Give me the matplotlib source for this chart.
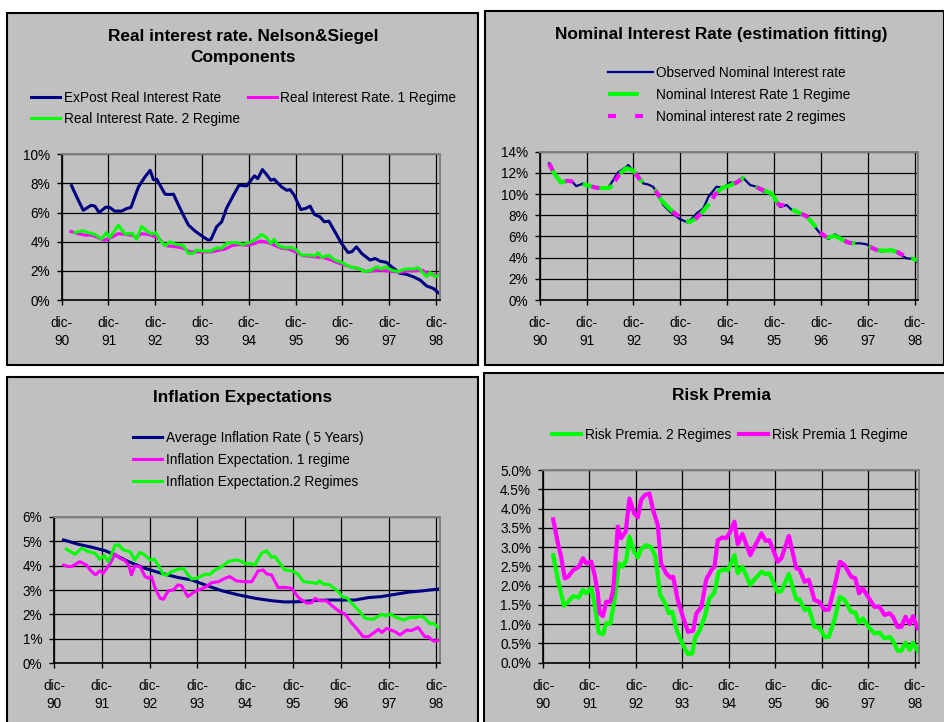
import matplotlib.pyplot as plt
from matplotlib.patches import Rectangle
from matplotlib.ticker import FuncFormatter, MultipleLocator

plt.rcParams["font.family"] = ["Liberation Sans", "DejaVu Sans"]

W, H = 945, 722
NAVY = "#000080"
MAGENTA = "#FF00FF"
GREEN = "#00FF00"
PANEL = "#C0C0C0"

YEAR_LABELS = [f"dic-\n{y}" for y in range(90, 99)]

# time axis: years after December 1990, values in percent

# real interest rate
expost_t = [0.21, 0.32, 0.46, 0.63, 0.71, 0.80, 0.94, 1.03, 1.13, 1.28, 1.39, 1.48,
            1.64, 1.78, 1.89, 1.96, 2.03, 2.21, 2.31, 2.39, 2.48, 2.60, 2.71, 2.85,
            2.99, 3.13, 3.19, 3.31, 3.42, 3.52, 3.67, 3.79, 3.95, 4.12, 4.19, 4.29,
            4.38, 4.47, 4.54, 4.70, 4.81, 4.88, 4.97, 5.11, 5.21, 5.31, 5.40, 5.52,
            5.61, 5.71, 5.84, 5.98, 6.12, 6.20, 6.30, 6.41, 6.59, 6.70, 6.80, 6.94,
            7.05, 7.23, 7.37, 7.51, 7.66, 7.80, 7.94, 8.05]
expost_v = [7.85, 7.08, 6.16, 6.50, 6.44, 6.00, 6.37, 6.35, 6.10, 6.10, 6.28, 6.35,
            7.76, 8.45, 8.90, 8.26, 8.29, 7.26, 7.24, 7.26, 6.62, 5.82, 5.14, 4.73,
            4.41, 4.11, 4.16, 5.02, 5.37, 6.28, 7.19, 7.88, 7.83, 8.52, 8.33, 8.95,
            8.60, 8.22, 8.29, 7.76, 7.53, 7.58, 7.19, 6.21, 6.28, 6.44, 5.87, 5.71,
            5.37, 5.41, 4.68, 3.88, 3.26, 3.31, 3.65, 3.20, 2.74, 2.85, 2.67, 2.58,
            2.28, 1.83, 1.76, 1.60, 1.37, 0.96, 0.80, 0.50]

real1_t = [0.20, 0.35, 0.50, 0.65, 0.80, 0.90, 1.00, 1.10, 1.20, 1.35, 1.50, 1.60,
           1.70, 1.85, 2.00, 2.10, 2.20, 2.30, 2.45, 2.60, 2.75, 2.90, 3.05, 3.20,
           3.35, 3.50, 3.65, 3.80, 3.95, 4.10, 4.25, 4.40, 4.55, 4.70, 4.85, 5.00,
           5.15, 5.30, 5.45, 5.60, 5.75, 5.90, 6.05, 6.20, 6.35, 6.50, 6.65, 6.80,
           6.95, 7.10, 7.25, 7.40, 7.55, 7.70, 7.85, 8.05]
real1_v = [4.70, 4.55, 4.45, 4.45, 4.25, 4.10, 4.20, 4.35, 4.55, 4.50, 4.45, 4.30,
           4.55, 4.50, 4.35, 4.15, 3.75, 3.70, 3.65, 3.55, 3.30, 3.30, 3.30, 3.30,
           3.40, 3.50, 3.75, 3.80, 3.75, 3.85, 4.05, 3.95, 3.75, 3.55, 3.50, 3.30,
           3.05, 3.00, 2.95, 2.90, 2.75, 2.55, 2.40, 2.25, 2.15, 1.95, 2.00, 2.05,
           2.00, 1.95, 1.90, 2.00, 2.00, 2.05, 1.80, 1.70]

real2_t = [0.28, 0.46, 0.57, 0.71, 0.85, 0.96, 1.03, 1.21, 1.35, 1.50, 1.60, 1.71,
           1.82, 1.92, 2.01, 2.10, 2.21, 2.31, 2.42, 2.53, 2.60, 2.71, 2.81, 2.88,
           3.03, 3.19, 3.31, 3.42, 3.52, 3.70, 3.88, 4.06, 4.17, 4.27, 4.38, 4.47,
           4.54, 4.63, 4.77, 4.91, 5.02, 5.13, 5.27, 5.41, 5.48, 5.56, 5.70, 5.84,
           5.98, 6.16, 6.34, 6.48, 6.62, 6.73, 6.84, 6.91, 7.05, 7.19, 7.34, 7.51,
           7.62, 7.80, 7.87, 7.98, 8.06]
real2_v = [4.63, 4.75, 4.61, 4.50, 4.18, 4.63, 4.27, 5.14, 4.52, 4.59, 4.18, 5.05,
           4.73, 4.52, 4.63, 4.11, 3.72, 4.00, 3.84, 3.77, 3.72, 3.20, 3.20, 3.42,
           3.36, 3.36, 3.58, 3.54, 3.88, 3.95, 3.81, 4.00, 4.22, 4.50, 4.27, 3.88,
           4.16, 3.72, 3.58, 3.61, 3.42, 3.08, 3.08, 3.04, 3.24, 2.92, 3.08, 2.74,
           2.58, 2.28, 2.17, 1.94, 2.05, 2.28, 2.12, 2.28, 2.05, 1.94, 2.12, 2.12,
           2.21, 1.60, 1.89, 1.60, 1.71]

# nominal interest rate
nominal_t = [0.20, 0.28, 0.46, 0.57, 0.68, 0.78, 0.93, 1.03, 1.14, 1.32, 1.46, 1.57,
             1.67, 1.82, 1.89, 1.96, 2.07, 2.21, 2.31, 2.42, 2.53, 2.64, 2.78, 2.99,
             3.15, 3.24, 3.35, 3.49, 3.60, 3.77, 3.92, 4.06, 4.17, 4.33, 4.49, 4.63,
             4.77, 4.91, 5.02, 5.13, 5.27, 5.38, 5.56, 5.70, 5.84, 5.98, 6.16, 6.30,
             6.41, 6.55, 6.70, 6.84, 6.98, 7.12, 7.30, 7.44, 7.58, 7.73, 7.83, 7.98,
             8.06]
nominal_v = [12.90, 12.10, 11.07, 11.26, 11.23, 10.75, 11.00, 10.85, 10.66, 10.53, 10.60, 11.32,
             12.04, 12.48, 12.74, 12.33, 11.95, 11.00, 10.91, 10.69, 9.90, 8.96, 8.33, 7.64,
             7.33, 7.64, 8.18, 8.65, 9.75, 10.69, 10.60, 11.10, 11.00, 11.57, 10.85, 10.69,
             10.22, 10.06, 9.59, 8.80, 8.96, 8.49, 8.18, 7.86, 7.08, 6.29, 5.75, 6.20,
             5.88, 5.50, 5.35, 5.35, 5.25, 4.81, 4.56, 4.72, 4.56, 4.18, 3.93, 3.87,
             3.55]

fit_t = [0.20, 0.30, 0.45, 0.60, 0.75, 0.90, 1.05, 1.20, 1.35, 1.50, 1.60, 1.70,
         1.85, 2.00, 2.15, 2.30, 2.45, 2.60, 2.75, 2.90, 3.05, 3.20, 3.30, 3.45,
         3.60, 3.75, 3.90, 4.05, 4.20, 4.35, 4.50, 4.65, 4.80, 4.95, 5.10, 5.25,
         5.40, 5.55, 5.70, 5.85, 6.00, 6.15, 6.30, 6.45, 6.60, 6.75, 6.90, 7.05,
         7.20, 7.35, 7.50, 7.65, 7.80, 7.95, 8.05]
fit1_v = [12.90, 12.00, 11.10, 11.25, 11.15, 10.95, 10.80, 10.60, 10.55, 10.60, 11.20, 11.90,
          12.45, 12.20, 11.30, 10.90, 10.50, 9.40, 8.70, 8.10, 7.70, 7.35, 7.60, 8.20,
          9.00, 10.00, 10.60, 10.80, 11.10, 11.50, 10.90, 10.60, 10.30, 10.05, 9.00, 8.90,
          8.50, 8.20, 7.90, 7.10, 6.30, 5.90, 6.05, 5.70, 5.40, 5.35, 5.30, 5.00,
          4.70, 4.65, 4.70, 4.50, 4.10, 3.90, 3.75]
fit2_v = [12.90, 12.00, 11.10, 11.25, 11.15, 10.95, 10.80, 10.60, 10.55, 10.60, 11.20, 11.85,
          12.35, 12.20, 11.30, 10.90, 10.50, 9.40, 8.70, 8.10, 7.70, 7.30, 7.55, 8.20,
          9.00, 10.00, 10.60, 10.80, 11.10, 11.50, 10.90, 10.60, 10.30, 10.05, 9.00, 8.90,
          8.50, 8.20, 7.90, 7.10, 6.30, 5.85, 6.00, 5.70, 5.40, 5.35, 5.30, 5.00,
          4.70, 4.65, 4.70, 4.50, 4.10, 3.90, 3.75]

# inflation
avg_infl_t = [0.20, 0.51, 0.79, 1.07, 1.28, 1.56, 1.90, 2.25, 2.60, 2.88, 3.16, 3.51,
              3.86, 4.21, 4.56, 4.83, 5.11, 5.39, 5.74, 6.09, 6.30, 6.58, 6.85, 7.13,
              7.41, 7.69, 8.04]
avg_infl_v = [5.05, 4.87, 4.75, 4.61, 4.43, 4.16, 3.89, 3.68, 3.51, 3.41, 3.21, 2.97,
              2.80, 2.66, 2.56, 2.51, 2.52, 2.56, 2.59, 2.59, 2.59, 2.69, 2.73, 2.82,
              2.91, 2.96, 3.04]

infl1_t = [0.20, 0.30, 0.37, 0.54, 0.68, 0.79, 0.87, 0.96, 1.03, 1.17, 1.28, 1.38,
           1.49, 1.57, 1.62, 1.69, 1.80, 1.90, 1.97, 2.04, 2.11, 2.22, 2.29, 2.39,
           2.50, 2.59, 2.67, 2.80, 2.91, 3.02, 3.16, 3.30, 3.44, 3.58, 3.68, 3.82,
           3.99, 4.14, 4.27, 4.38, 4.45, 4.55, 4.69, 4.83, 4.97, 5.13, 5.29, 5.39,
           5.46, 5.56, 5.70, 5.84, 5.98, 6.09, 6.23, 6.33, 6.47, 6.58, 6.68, 6.79,
           6.86, 6.96, 7.13, 7.24, 7.38, 7.48, 7.62, 7.76, 7.83, 7.94, 8.04]
infl1_v = [4.02, 3.96, 3.96, 4.16, 4.02, 3.75, 3.62, 3.79, 3.68, 4.07, 4.47, 4.30,
           4.20, 3.98, 3.62, 3.98, 3.96, 3.57, 3.48, 3.55, 3.11, 2.66, 2.62, 2.97,
           3.00, 3.21, 3.17, 2.73, 2.89, 3.00, 3.11, 3.30, 3.34, 3.48, 3.55, 3.37,
           3.34, 3.34, 3.78, 3.82, 3.66, 3.62, 3.10, 3.11, 3.07, 2.66, 2.46, 2.48,
           2.66, 2.56, 2.56, 2.32, 2.11, 2.02, 1.64, 1.43, 1.09, 1.09, 1.23, 1.39,
           1.26, 1.43, 1.30, 1.16, 1.36, 1.34, 1.47, 1.09, 1.09, 0.91, 0.93]

infl2_t = [0.26, 0.44, 0.58, 0.72, 0.86, 0.96, 1.05, 1.14, 1.28, 1.36, 1.45, 1.59,
           1.69, 1.80, 1.90, 2.01, 2.10, 2.18, 2.29, 2.36, 2.46, 2.60, 2.71, 2.78,
           2.88, 2.98, 3.16, 3.26, 3.37, 3.51, 3.65, 3.79, 3.89, 3.99, 4.14, 4.20,
           4.34, 4.45, 4.55, 4.62, 4.83, 4.97, 5.11, 5.22, 5.39, 5.50, 5.55, 5.63,
           5.77, 5.91, 6.05, 6.12, 6.30, 6.40, 6.51, 6.68, 6.86, 6.93, 7.03, 7.17,
           7.31, 7.45, 7.59, 7.69, 7.76, 7.87, 7.94, 8.04]
infl2_v = [4.67, 4.46, 4.71, 4.57, 4.50, 4.26, 4.41, 4.16, 4.84, 4.84, 4.64, 4.57,
           4.23, 4.54, 4.43, 4.23, 4.26, 4.02, 3.62, 3.62, 3.75, 3.85, 3.89, 3.68,
           3.45, 3.48, 3.64, 3.64, 3.82, 3.96, 4.16, 4.23, 4.20, 4.09, 4.07, 4.02,
           4.50, 4.61, 4.34, 4.37, 3.82, 3.79, 3.64, 3.34, 3.30, 3.27, 3.38, 3.25,
           3.21, 3.00, 2.70, 2.69, 2.32, 2.11, 1.84, 1.80, 2.01, 1.94, 2.01, 1.88,
           1.77, 1.88, 1.88, 1.94, 1.84, 1.61, 1.64, 1.47]

# risk premia
risk_t = [0.22, 0.32, 0.39, 0.47, 0.54, 0.65, 0.77, 0.86, 0.93, 1.04, 1.11, 1.18,
          1.22, 1.29, 1.36, 1.45, 1.51, 1.61, 1.68, 1.78, 1.86, 1.96, 2.04, 2.11,
          2.19, 2.29, 2.37, 2.47, 2.54, 2.65, 2.74, 2.80, 2.90, 3.01, 3.12, 3.23,
          3.30, 3.41, 3.51, 3.62, 3.69, 3.76, 3.86, 3.94, 4.03, 4.12, 4.19, 4.29,
          4.46, 4.57, 4.70, 4.79, 4.87, 5.05, 5.13, 5.29, 5.45, 5.52, 5.63, 5.72,
          5.84, 5.94, 6.06, 6.15, 6.27, 6.39, 6.49, 6.63, 6.72, 6.80, 6.88, 7.03,
          7.13, 7.24, 7.35, 7.46, 7.53, 7.63, 7.71, 7.80, 7.89, 7.96, 8.06]
risk1_v = [3.72, 3.10, 2.75, 2.19, 2.23, 2.40, 2.49, 2.71, 2.58, 2.62, 2.28, 1.80,
           1.28, 1.21, 1.58, 1.58, 1.89, 3.53, 3.23, 3.40, 4.26, 3.88, 3.77, 4.22,
           4.35, 4.39, 3.96, 3.57, 2.58, 2.32, 2.21, 2.23, 1.63, 1.19, 0.80, 0.83,
           1.28, 1.45, 2.15, 2.40, 2.49, 3.18, 3.25, 3.23, 3.40, 3.66, 3.07, 3.34,
           2.79, 3.05, 3.36, 3.16, 3.18, 2.62, 2.71, 3.29, 2.45, 2.42, 2.10, 2.15,
           1.63, 1.58, 1.37, 1.38, 1.97, 2.62, 2.53, 2.23, 2.19, 1.80, 1.93, 1.64,
           1.45, 1.45, 1.24, 1.28, 1.19, 0.93, 0.93, 1.19, 1.00, 1.21, 0.89]

risk2_t = [0.22, 0.32, 0.45, 0.54, 0.65, 0.77, 0.86, 0.93, 1.04, 1.11, 1.20, 1.29,
           1.36, 1.45, 1.54, 1.63, 1.71, 1.79, 1.86, 1.96, 2.04, 2.11, 2.22, 2.33,
           2.42, 2.52, 2.62, 2.71, 2.78, 2.87, 3.01, 3.12, 3.21, 3.28, 3.37, 3.48,
           3.58, 3.69, 3.78, 3.87, 3.98, 4.12, 4.19, 4.29, 4.46, 4.57, 4.70, 4.79,
           4.87, 5.05, 5.13, 5.29, 5.45, 5.52, 5.63, 5.72, 5.84, 5.94, 6.06, 6.15,
           6.27, 6.39, 6.49, 6.63, 6.72, 6.80, 6.88, 7.03, 7.13, 7.24, 7.35, 7.46,
           7.53, 7.63, 7.71, 7.80, 7.89, 7.96, 8.06]
risk2_v = [2.79, 2.15, 1.48, 1.58, 1.73, 1.69, 1.89, 1.80, 1.93, 1.54, 0.78, 0.74,
           1.02, 1.02, 1.63, 2.58, 2.49, 2.66, 3.27, 2.88, 2.73, 2.94, 3.05, 2.99,
           2.75, 1.76, 1.56, 1.28, 1.32, 0.87, 0.46, 0.22, 0.24, 0.67, 0.83, 1.19,
           1.67, 1.82, 2.36, 2.42, 2.40, 2.79, 2.32, 2.49, 2.02, 2.19, 2.36, 2.30,
           2.32, 1.83, 1.86, 2.30, 1.64, 1.64, 1.37, 1.41, 0.93, 0.92, 0.67, 0.67,
           1.11, 1.71, 1.63, 1.32, 1.30, 1.04, 1.15, 0.89, 0.76, 0.78, 0.63, 0.67,
           0.57, 0.31, 0.31, 0.52, 0.33, 0.52, 0.31]


def fig_box(left, top, right, bottom):
    return [left / W, 1 - bottom / H, (right - left) / W, (bottom - top) / H]


def panel(fig, left, top, right, bottom):
    x, y, w, h = fig_box(left, top, right, bottom)
    fig.add_artist(Rectangle((x, y), w, h, transform=fig.transFigure,
                             fc=PANEL, ec="black", lw=1.5, zorder=0))


def chart_axes(fig, box, xmax, ymax, ystep, fmt):
    ax = fig.add_axes(fig_box(*box))
    ax.set_facecolor(PANEL)
    ax.set_xlim(0, xmax)
    ax.set_ylim(0, ymax)
    ax.set_xticks(range(9), YEAR_LABELS)
    ax.yaxis.set_major_locator(MultipleLocator(ystep))
    ax.yaxis.set_major_formatter(FuncFormatter(lambda v, _: fmt.format(v)))
    ax.grid(True, color="black", lw=0.9)
    ax.set_axisbelow(True)
    for side in ("top", "right"):
        ax.spines[side].set_color("#808080")
        ax.spines[side].set_linewidth(1.4)
    for side in ("left", "bottom"):
        ax.spines[side].set_linewidth(1.2)
    ax.tick_params(axis="x", length=3.5, width=1, pad=8, labelsize=9.8)
    ax.tick_params(axis="y", length=3.5, width=1, pad=5, labelsize=9.8)
    for lab in ax.get_xticklabels():
        lab.set_linespacing(1.38)
    return ax


def legend(ax, handles, x, y, ncol=1, **kw):
    opts = dict(loc="upper left", bbox_to_anchor=(x / W, 1 - y / H),
                bbox_transform=ax.figure.transFigure, frameon=False,
                borderpad=0, borderaxespad=0, fontsize=9.8, handlelength=2.15,
                handletextpad=0.25, labelspacing=0.53, columnspacing=0.6, ncol=ncol)
    opts.update(kw)
    ax.legend(handles=handles, **opts)


fig = plt.figure(figsize=(W / 100, H / 100), dpi=100)
fig.patch.set_facecolor("white")

panel(fig, 7, 12.7, 477.7, 365)
panel(fig, 485, 11, 944, 365)
panel(fig, 7, 376.5, 478, 745)
panel(fig, 484.5, 372.7, 950, 745)

title_kw = dict(ha="center", va="center", fontsize=12.4, fontweight="bold")
fig.text(243 / W, 1 - 47 / H, "Real interest rate. Nelson&Siegel\nComponents",
         linespacing=1.55, **title_kw)
fig.text(721 / W, 1 - 34 / H, "Nominal Interest Rate (estimation fitting)", **title_kw)
fig.text(243 / W, 1 - 398 / H, "Inflation Expectations", **title_kw)
fig.text(721 / W, 1 - 395 / H, "Risk Premia", **title_kw)

# real interest rate components
ax = chart_axes(fig, (61.7, 154.3, 440, 300), 8.085, 10, 2, "{:.0f}%")
h_expost, = ax.plot(expost_t, expost_v, color=NAVY, lw=2.2, label="ExPost Real Interest Rate")
h_real1, = ax.plot(real1_t, real1_v, color=MAGENTA, lw=2.2, label="Real Interest Rate. 1 Regime")
h_real2, = ax.plot(real2_t, real2_v, color=GREEN, lw=2.2, label="Real Interest Rate. 2 Regime")
legend(ax, [h_expost, h_real2, h_real1], 31, 91, ncol=2)

# nominal rate and fitted values
ax = chart_axes(fig, (539.7, 151.7, 918, 300), 8.07, 14, 2, "{:.0f}%")
h_obs, = ax.plot(nominal_t, nominal_v, color=NAVY, lw=1.6, label="Observed Nominal Interest rate")
h_fit1, = ax.plot(fit_t, fit1_v, color=GREEN, lw=3.0, ls=(0, (7.4, 3.4)),
                  label="Nominal Interest Rate 1 Regime")
h_fit2, = ax.plot(fit_t, fit2_v, color=MAGENTA, lw=3.0, ls=(0, (1.9, 4.6)),
                  label="Nominal interest rate 2 regimes")
legend(ax, [h_obs, h_fit1, h_fit2], 608, 66, handlelength=3.3, labelspacing=0.58)

# inflation expectations
ax = chart_axes(fig, (54, 516.7, 440, 663.3), 8.077, 6, 1, "{:.0f}%")
h_avg, = ax.plot(avg_infl_t, avg_infl_v, color=NAVY, lw=2.2, label="Average Inflation Rate ( 5 Years)")
h_inf1, = ax.plot(infl1_t, infl1_v, color=MAGENTA, lw=2.2, label="Inflation Expectation. 1 regime")
h_inf2, = ax.plot(infl2_t, infl2_v, color=GREEN, lw=2.2, label="Inflation Expectation.2 Regimes")
legend(ax, [h_avg, h_inf1, h_inf2], 133, 431, labelspacing=0.58)

# risk premia
ax = chart_axes(fig, (543, 470, 919, 662.7), 8.09, 5, 0.5, "{:.1f}%")
h_risk2, = ax.plot(risk2_t, risk2_v, color=GREEN, lw=3.0, label="Risk Premia. 2 Regimes")
h_risk1, = ax.plot(risk_t, risk1_v, color=MAGENTA, lw=3.0, label="Risk Premia 1 Regime")
legend(ax, [h_risk2, h_risk1], 552, 428, ncol=2)

fig.savefig("out.png", dpi=100)
